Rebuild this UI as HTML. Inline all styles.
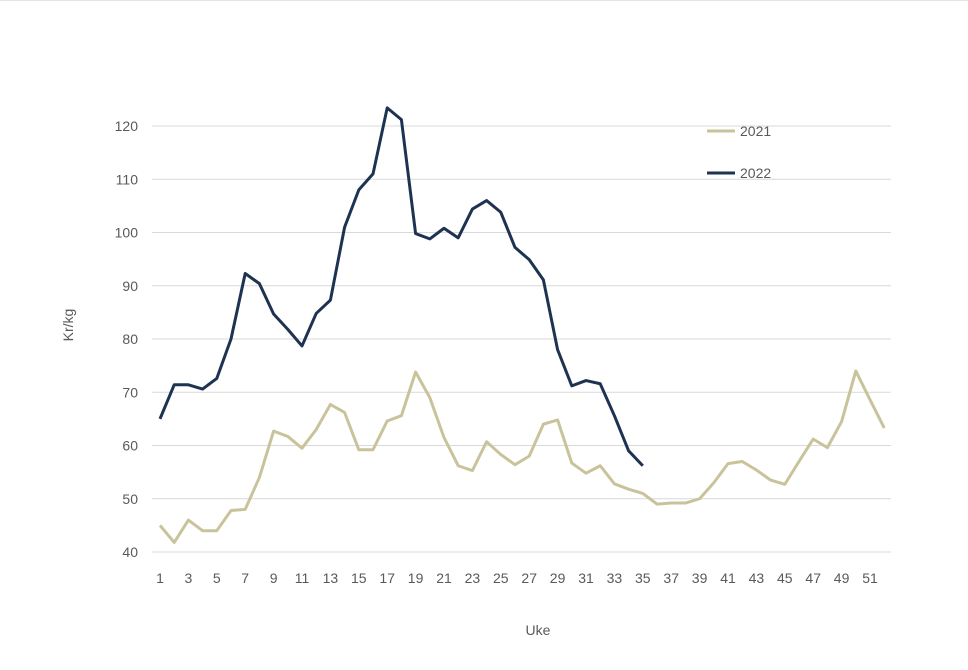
<!DOCTYPE html><html><head><meta charset="utf-8"><style>body{margin:0;background:#fff}svg{display:block}text{font-family:"Liberation Sans",sans-serif;fill:#595959}</style></head><body>
<svg id="s" width="968" height="670" xmlns="http://www.w3.org/2000/svg">
<line x1="0" y1="0.5" x2="968" y2="0.5" stroke="#e4e4e4"/>
<g id="g"></g>
<text x="73" y="325" font-size="14" text-anchor="middle" transform="rotate(-90 73 325)">Kr/kg</text>
<text x="538" y="635" font-size="14" text-anchor="middle">Uke</text>
<line x1="707" y1="131" x2="735" y2="131" stroke="#c9c39c" stroke-width="3"/>
<text x="740" y="136" font-size="14">2021</text>
<line x1="707" y1="173" x2="735" y2="173" stroke="#1e3352" stroke-width="3"/>
<text x="740" y="178" font-size="14">2022</text>
</svg>
<script>
var a=[45,41.8,46,44,44,47.8,48,54,62.7,61.7,59.5,63,67.7,66.2,59.2,59.2,64.6,65.6,73.8,69,61.5,56.2,55.3,60.7,58.3,56.4,58,64,64.8,56.7,54.8,56.2,52.8,51.8,51,49,49.2,49.2,50,53,56.6,57,55.4,53.5,52.7,57,61.2,59.6,64.5,74,68.6,63.3];
var b=[65,71.4,71.4,70.6,72.6,80,92.3,90.4,84.7,81.8,78.7,84.8,87.3,101,108,111,123.4,121.2,99.8,98.8,100.8,99,104.4,106,103.8,97.2,94.9,91.1,78,71.2,72.2,71.6,65.6,59,56.2];
function X(i){return 160+i*14.2}function Y(v){return 552-(v-40)*5.325}
var h='';
for(var v=40;v<=120;v+=10){var y=Y(v);h+='<line x1="152" y1="'+y+'" x2="891" y2="'+y+'" stroke="#d9d9d9" stroke-width="1"/><text x="138" y="'+(y+5)+'" font-size="14" text-anchor="end">'+v+'</text>';}
for(var w=1;w<=51;w+=2)h+='<text x="'+X(w-1)+'" y="583" font-size="14" text-anchor="middle">'+w+'</text>';
function p(d,c){return '<polyline fill="none" stroke="'+c+'" stroke-width="3" stroke-linejoin="round" points="'+d.map(function(v,i){return X(i)+','+Y(v)}).join(' ')+'"/>';}
h+=p(a,'#c9c39c')+p(b,'#1e3352');
document.getElementById('g').innerHTML=h;
</script>
</body></html>
